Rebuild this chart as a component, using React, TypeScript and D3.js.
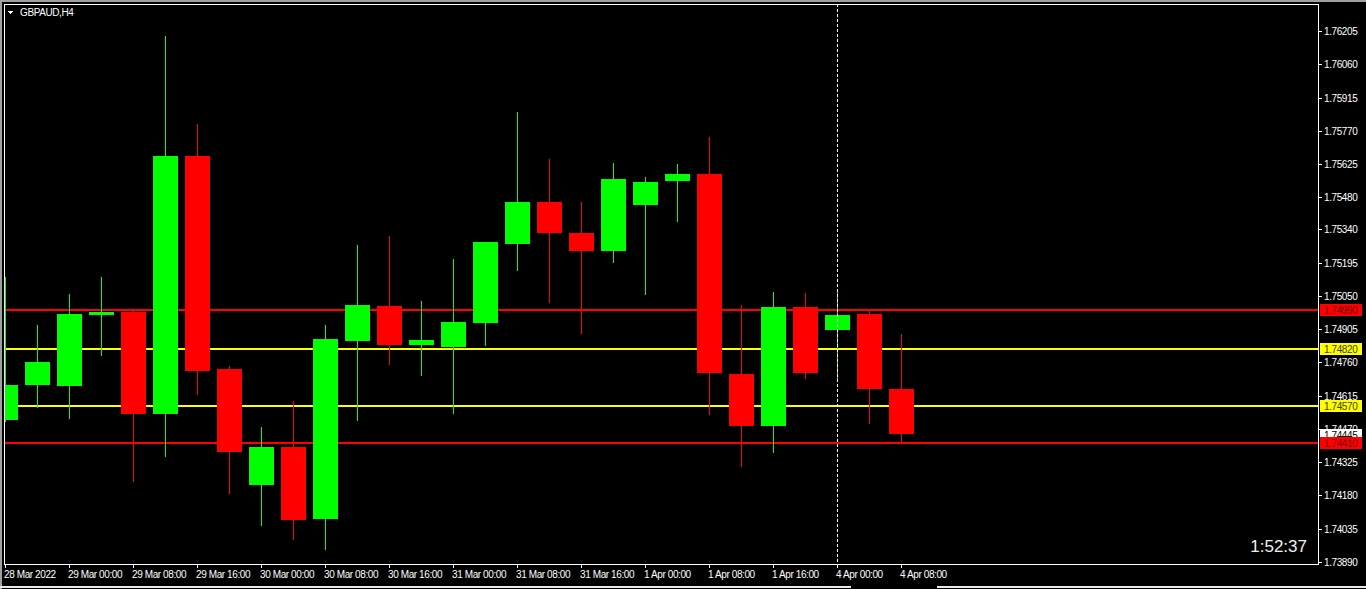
import { useEffect } from "react";
import * as d3 from "d3";

// GBPAUD H4 bars, 28 Mar 16:00 .. 4 Apr 08:00
const opens = [
  1.74505, 1.74659, 1.74655, 1.74962, 1.74975, 1.74529, 1.75655, 1.74725, 1.74222, 1.74386,
  1.74072, 1.74851, 1.75002, 1.74833, 1.74824, 1.74929, 1.75271, 1.75456, 1.75322, 1.75241,
  1.75444, 1.75548, 1.75577, 1.74707, 1.74479, 1.74997, 1.74895, 1.74967, 1.74642,
];
const highs = [
  1.75127, 1.74918, 1.75053, 1.75127, 1.74986, 1.76178, 1.75794, 1.74741, 1.74473, 1.74586,
  1.74919, 1.75266, 1.75305, 1.75023, 1.75205, 1.75279, 1.75846, 1.75642, 1.75456, 1.75625,
  1.75564, 1.7562, 1.75737, 1.75006, 1.75062, 1.75058, 1.75071, 1.7498, 1.7488,
];
const lows = [
  1.74501, 1.74561, 1.74513, 1.74786, 1.74239, 1.74347, 1.74616, 1.74188, 1.74049, 1.73988,
  1.73943, 1.74505, 1.74748, 1.747, 1.74535, 1.7483, 1.75159, 1.7502, 1.74882, 1.75193,
  1.75055, 1.75371, 1.74531, 1.74306, 1.74367, 1.74687, 1.74677, 1.74492, 1.74414,
];
const closes = [
  1.74659, 1.74759, 1.74966, 1.74975, 1.74529, 1.75655, 1.7472, 1.74365, 1.74386, 1.7407,
  1.74859, 1.75006, 1.74833, 1.74854, 1.74932, 1.75279, 1.75456, 1.75319, 1.75241, 1.75556,
  1.75543, 1.75577, 1.74709, 1.74479, 1.74997, 1.74709, 1.74963, 1.74639, 1.74445,
];

// one label every 2 bars
const timeLabels = [
  "28 Mar 2022", "29 Mar 00:00", "29 Mar 08:00", "29 Mar 16:00", "30 Mar 00:00",
  "30 Mar 08:00", "30 Mar 16:00", "31 Mar 00:00", "31 Mar 08:00", "31 Mar 16:00",
  "1 Apr 00:00", "1 Apr 08:00", "1 Apr 16:00", "4 Apr 00:00", "4 Apr 08:00",
];

const priceTicks = [
  1.76205, 1.7606, 1.75915, 1.7577, 1.75625, 1.7548, 1.7534, 1.75195, 1.7505,
  1.74905, 1.7476, 1.74615, 1.7447, 1.74325, 1.7418, 1.74035, 1.7389,
];

const redLevels = [1.7499, 1.7441];
const yellowLevels = [1.7482, 1.7457];
const currentPrice = 1.74445;
const sepBar = 26; // week separator (4 Apr 00:00)
const timer = "1:52:37";

const FONT = "'Liberation Sans', Arial, sans-serif";
const UP = "#00ff00";
const DOWN = "#ff0000";

export default function App() {
  useEffect(() => {
    document.body.style.margin = "0";
    document.body.style.background = "#000";
  }, []);

  const x = d3.scaleLinear().domain([0, 28]).range([5, 901]);
  const y = d3.scaleLinear().domain([1.7389, 1.76205]).range([561, 30]);
  const py = (p: number) => Math.round(y(p));

  const left = 4;
  const right = 1318;
  const top = 4;
  const bottom = 564;

  const levelLabel = (p: number, bg: string, fg: string, key: string) => (
    <g key={key}>
      <rect x={1320} y={py(p) - 5} width={42} height={12} fill={bg} />
      <text x={1324} y={py(p) + 5} fill={fg} fontSize={10} letterSpacing={-0.4} fontFamily={FONT}>
        {p.toFixed(5)}
      </text>
    </g>
  );

  return (
    <svg width={1366} height={589} style={{ display: "block", background: "#000" }} shapeRendering="crispEdges">
      <defs>
        <clipPath id="plot">
          <rect x={left + 1} y={top + 1} width={right - left - 1} height={bottom - top - 1} />
        </clipPath>
      </defs>

      {/* window chrome */}
      <rect x={0} y={0} width={1366} height={2} fill="#a0a0a0" />
      <rect x={0} y={0} width={2} height={589} fill="#a0a0a0" />
      <rect x={0} y={586} width={851} height={2} fill="#e8e8e8" />
      <rect x={937} y={586} width={429} height={2} fill="#e8e8e8" />

      <g clipPath="url(#plot)">
        {/* levels */}
        {redLevels.map((p, i) => (
          <rect key={"r" + i} x={left} y={py(p)} width={right - left} height={2} fill={DOWN} />
        ))}
        {yellowLevels.map((p, i) => (
          <rect key={"y" + i} x={left} y={py(p)} width={right - left} height={2} fill="#ffff00" />
        ))}

        {/* candles */}
        {opens.map((o, i) => {
          const c = closes[i];
          const col = c >= o ? UP : DOWN;
          const cx = Math.round(x(i));
          const bt = py(Math.max(o, c));
          const bb = py(Math.min(o, c));
          return (
            <g key={i}>
              <rect x={cx} y={py(highs[i])} width={1} height={py(lows[i]) - py(highs[i]) + 1} fill={col} />
              <rect x={cx - 12} y={bt} width={25} height={Math.max(bb - bt, 2)} fill={col} />
            </g>
          );
        })}
      </g>

      {/* week separator */}
      <line
        x1={Math.round(x(sepBar)) + 0.5}
        x2={Math.round(x(sepBar)) + 0.5}
        y1={top}
        y2={bottom + 4}
        stroke="#fff"
        strokeDasharray="3,2"
      />

      {/* frame */}
      <rect x={left + 0.5} y={top + 0.5} width={right - left} height={bottom - top} fill="none" stroke="#fff" />

      {/* title */}
      <path d="M7,11 L13,11 L10,14 Z" fill="#fff" />
      <text x={20} y={16} fill="#fff" fontSize={10} letterSpacing={-0.4} fontFamily={FONT}>
        GBPAUD,H4
      </text>

      {/* price axis */}
      {priceTicks.map((p, i) => (
        <g key={"pt" + i}>
          <rect x={right} y={py(p) + 1} width={4} height={1} fill="#fff" />
          <text x={1324} y={py(p) + 5} fill="#fff" fontSize={10} letterSpacing={-0.4} fontFamily={FONT}>
            {p.toFixed(5)}
          </text>
        </g>
      ))}

      {levelLabel(yellowLevels[0], "#ffff00", "#404000", "ly0")}
      {levelLabel(yellowLevels[1], "#ffff00", "#404000", "ly1")}
      {levelLabel(redLevels[0], DOWN, "#700000", "lr0")}
      {levelLabel(currentPrice, "#ffffff", "#000", "cur")}
      {levelLabel(redLevels[1], DOWN, "#700000", "lr1")}

      {/* time axis */}
      {timeLabels.map((t, i) => {
        const tx = Math.round(x(i * 2));
        return (
          <g key={"tt" + i}>
            <rect x={tx} y={bottom} width={1} height={4} fill="#fff" />
            <text x={tx - 1} y={578} fill="#fff" fontSize={10} letterSpacing={-0.4} fontFamily={FONT}>
              {t}
            </text>
          </g>
        );
      })}

      {/* bar timer */}
      <text x={1307} y={552} textAnchor="end" fill="#f0f0f0" fontSize={17} fontFamily={FONT}>
        {timer}
      </text>
    </svg>
  );
}
